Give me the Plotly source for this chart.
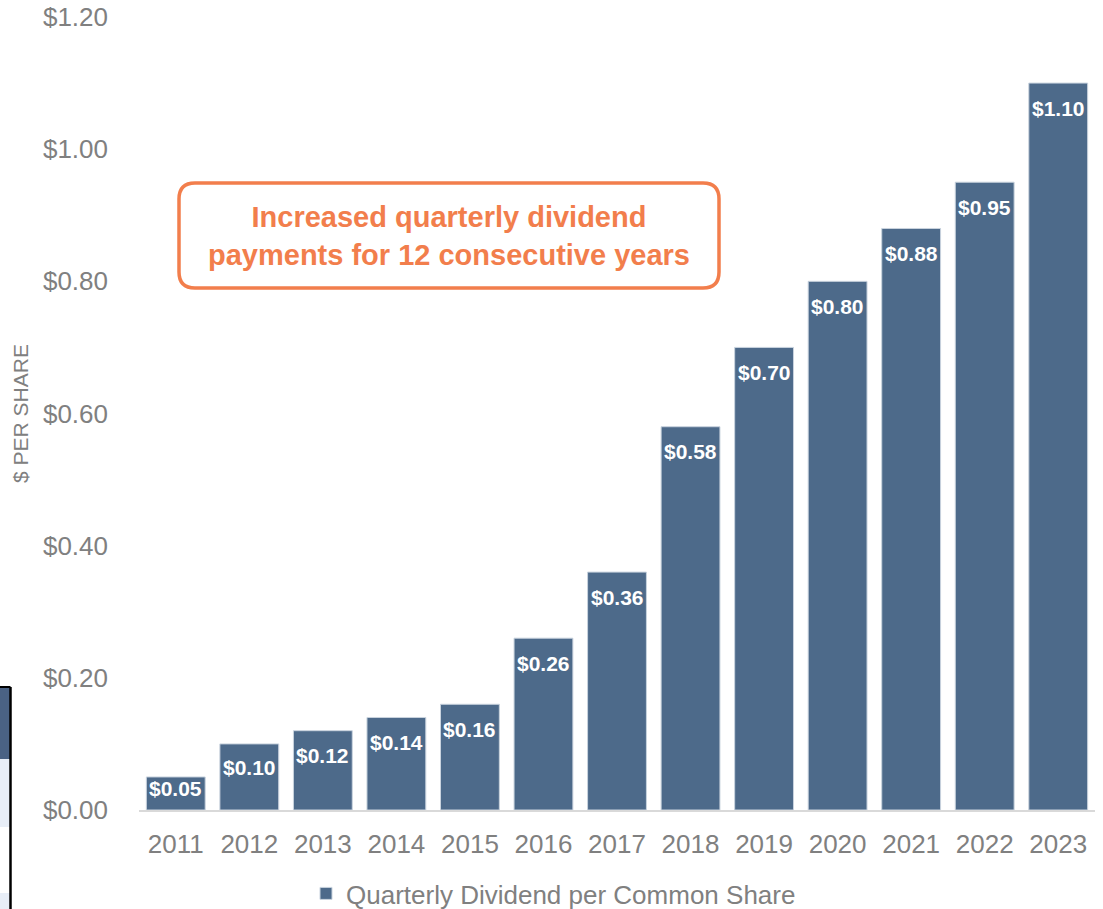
import plotly.graph_objects as go

years = ["2011", "2012", "2013", "2014", "2015", "2016", "2017", "2018", "2019", "2020", "2021", "2022", "2023"]
dividends = [0.05, 0.10, 0.12, 0.14, 0.16, 0.26, 0.36, 0.58, 0.70, 0.80, 0.88, 0.95, 1.10]
y_ticks = [0.0, 0.2, 0.4, 0.6, 0.8, 1.0, 1.2]
y_tick_labels = ["$0.00", "$0.20", "$0.40", "$0.60", "$0.80", "$1.00", "$1.20"]
series_name = "Quarterly Dividend per Common Share"
callout_text = "Increased quarterly dividend<br>payments for 12 consecutive years"

W, H = 1103, 909
ML, MR, MT, MB = 139, 8, 17, 99
PW, PH = W - ML - MR, H - MT - MB
YMAX = 1.2

BAR = "#4D6A8A"
GRAY = "#808080"
ORANGE = "#F27E4C"
FONT = "Liberation Sans, Arial"


def px(x):
    return (x - ML) / PW


def py(y):
    return (H - MB - y) / PH


fig = go.Figure()
fig.add_trace(go.Bar(
    x=years, y=dividends, name=series_name,
    marker=dict(color=BAR, line=dict(color="#C9D3DE", width=1)),
    hoverinfo="x+y",
))

# value labels inside bar tops (x given as category index)
for i, v in enumerate(dividends):
    hpx = v / YMAX * PH
    shift = -min(25, hpx * 0.35)
    fig.add_annotation(x=i, y=v, text=f"<b>${v:.2f}</b>", showarrow=False,
                       yshift=shift, yanchor="middle", xanchor="center",
                       font=dict(family=FONT, size=21, color="white"))

# rounded callout box
def rounded_rect(x0, y0, x1, y1, r):
    X0, X1 = px(x0), px(x1)
    Y0, Y1 = py(y0), py(y1)
    rx, ry = r / PW, r / PH
    return (f"M {X0+rx},{Y0} L {X1-rx},{Y0} Q {X1},{Y0} {X1},{Y0-ry} "
            f"L {X1},{Y1+ry} Q {X1},{Y1} {X1-rx},{Y1} "
            f"L {X0+rx},{Y1} Q {X0},{Y1} {X0},{Y1+ry} "
            f"L {X0},{Y0-ry} Q {X0},{Y0} {X0+rx},{Y0} Z")

fig.add_shape(type="path", xref="paper", yref="paper",
              path=rounded_rect(179, 183, 719, 288, 16),
              line=dict(color=ORANGE, width=3.5), fillcolor="white")
fig.add_annotation(xref="paper", yref="paper", x=px(449), y=py(236),
                   text=f"<b>{callout_text}</b>", showarrow=False,
                   font=dict(family=FONT, size=29, color=ORANGE),
                   align="center", yanchor="middle", xanchor="center")

# cropped table fragment at left edge
frag = [
    (687, 759, "#4A6284"),
    (759, 827, "#E8EEF7"),
    (827, 893, "#FFFFFF"),
    (893, 912, "#E8EEF7"),
]
for t, b, c in frag:
    fig.add_shape(type="rect", xref="paper", yref="paper",
                  x0=px(-5), x1=px(10), y0=py(b), y1=py(t),
                  line=dict(width=0), fillcolor=c)
fig.add_shape(type="line", xref="paper", yref="paper",
              x0=px(-5), x1=px(10.5), y0=py(687), y1=py(687),
              line=dict(color="black", width=2))
fig.add_shape(type="line", xref="paper", yref="paper",
              x0=px(10.5), x1=px(10.5), y0=py(687), y1=py(915),
              line=dict(color="black", width=2.5))

fig.update_layout(
    width=W, height=H,
    margin=dict(l=ML, r=MR, t=MT, b=MB, autoexpand=False),
    paper_bgcolor="white", plot_bgcolor="white",
    bargap=0.2,
    font=dict(family=FONT, color=GRAY),
    showlegend=True,
    legend=dict(orientation="h", xref="container", yref="container",
                x=306 / W, xanchor="left", y=1 - 870 / H, yanchor="top",
                font=dict(size=26, color=GRAY), itemwidth=30),
    xaxis=dict(type="category", showgrid=False, showline=True, linecolor="#D9D9D9", linewidth=1.5,
               ticks="", ticklabelstandoff=10,
               tickfont=dict(size=26, color=GRAY), automargin=False),
    yaxis=dict(range=[0, YMAX], tickvals=y_ticks, ticktext=y_tick_labels,
               showgrid=False, zeroline=False, showline=False, ticks="",
               ticklabelstandoff=30, automargin=False,
               tickfont=dict(size=26, color=GRAY),
               title=dict(text="$ PER SHARE", font=dict(size=21, color=GRAY), standoff=8)),
)

fig.write_html("out.html", config={"displayModeBar": False},
               post_script="document.body.style.margin='0';document.body.style.overflow='hidden';")
